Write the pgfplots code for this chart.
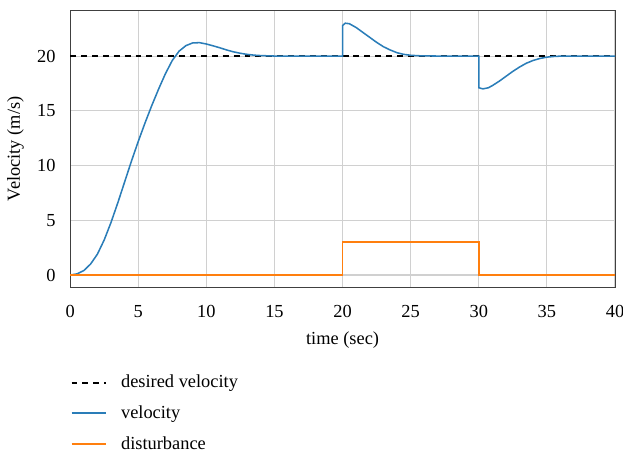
\documentclass[border=0pt]{standalone}
\usepackage{fontspec}
\setmainfont{Liberation Serif}
\usepackage{pgfplots}
\pgfplotsset{compat=1.18}

\definecolor{tabblue}{HTML}{2A7DB8}
\definecolor{taborange}{HTML}{FF7F0E}
\definecolor{gridgray}{HTML}{D0D0D0}

\begin{document}
\begin{tikzpicture}[font=\fontsize{10.8}{13}\selectfont]
\begin{axis}[
    name=ax,
    width=320pt, height=163pt,
    scale only axis,
    xmin=0, xmax=40,
    ymin=-1.15, ymax=24.2,
    xtick={0,5,...,40},
    ytick={0,5,...,20},
    grid=major,
    major grid style={gridgray, line width=0.6pt},
    axis line style={black!75, line width=0.5pt},
    tick style={draw=none},
    xticklabel style={yshift=-7pt},
    yticklabel style={xshift=-5pt},
    /pgf/number format/assume math mode=true,
    xlabel={time (sec)},
    ylabel={Velocity (m/s)},
    xlabel style={yshift=-1.5pt},
    ylabel style={yshift=1pt},
    legend cell align=left,
    legend style={at={(axis description cs:0,-0.302)}, anchor=north west,
        draw=none, fill=none, inner sep=0pt, row sep=5pt,
        nodes={inner xsep=8pt}},
    legend image code/.code={\draw[#1, line width=1.2pt] (0pt,0pt) -- (20.5pt,0pt);},
]

% desired velocity
\addplot[black, line width=0.9pt, dash pattern=on 3.5pt off 2.9pt] coordinates {
    (0,20) (40,20)
};
\addlegendentry{desired velocity}

% velocity
\addplot[tabblue, line width=0.9pt] coordinates {
    (0,0) (0.5,0.1) (1,0.4) (1.5,1.0) (2,1.9) (2.5,3.2) (3,4.8) (3.5,6.6)
    (4,8.5) (4.5,10.4) (5,12.2) (5.5,13.9) (6,15.5) (6.5,17.0) (7,18.4)
    (7.5,19.6) (8,20.45) (8.5,20.95) (9,21.2) (9.5,21.22) (10,21.1)
    (10.5,20.93) (11,20.75) (11.5,20.55) (12,20.38) (12.5,20.25) (13,20.15)
    (13.5,20.08) (14,20.04) (14.5,20.02) (15,20.0) (20,20.0)
    (20.01,22.8) (20.2,23.0) (20.5,22.95) (21,22.6) (21.5,22.15) (22,21.7)
    (22.5,21.25) (23,20.85) (23.5,20.55) (24,20.3) (24.5,20.15) (25,20.07)
    (25.5,20.03) (26,20.01) (27,20) (30,20)
    (30.01,17.1) (30.3,17.0) (30.7,17.1) (31,17.3) (31.5,17.7) (32,18.15)
    (32.5,18.6) (33,19.0) (33.5,19.35) (34,19.6) (34.5,19.78) (35,19.9)
    (35.5,19.96) (36,19.99) (37,20) (40,20)
};
\addlegendentry{velocity}

% disturbance
\addplot[taborange, line width=0.9pt] coordinates {
    (0,0) (20,0) (20,3) (30,3) (30,0) (40,0)
};
\addlegendentry{disturbance}

\end{axis}
\pgfresetboundingbox
\path[use as bounding box] ([shift={(-41.2pt,-99.4pt)}]ax.south west)
    rectangle ([shift={(4.7pt,5.9pt)}]ax.north east);
\end{tikzpicture}
\end{document}
